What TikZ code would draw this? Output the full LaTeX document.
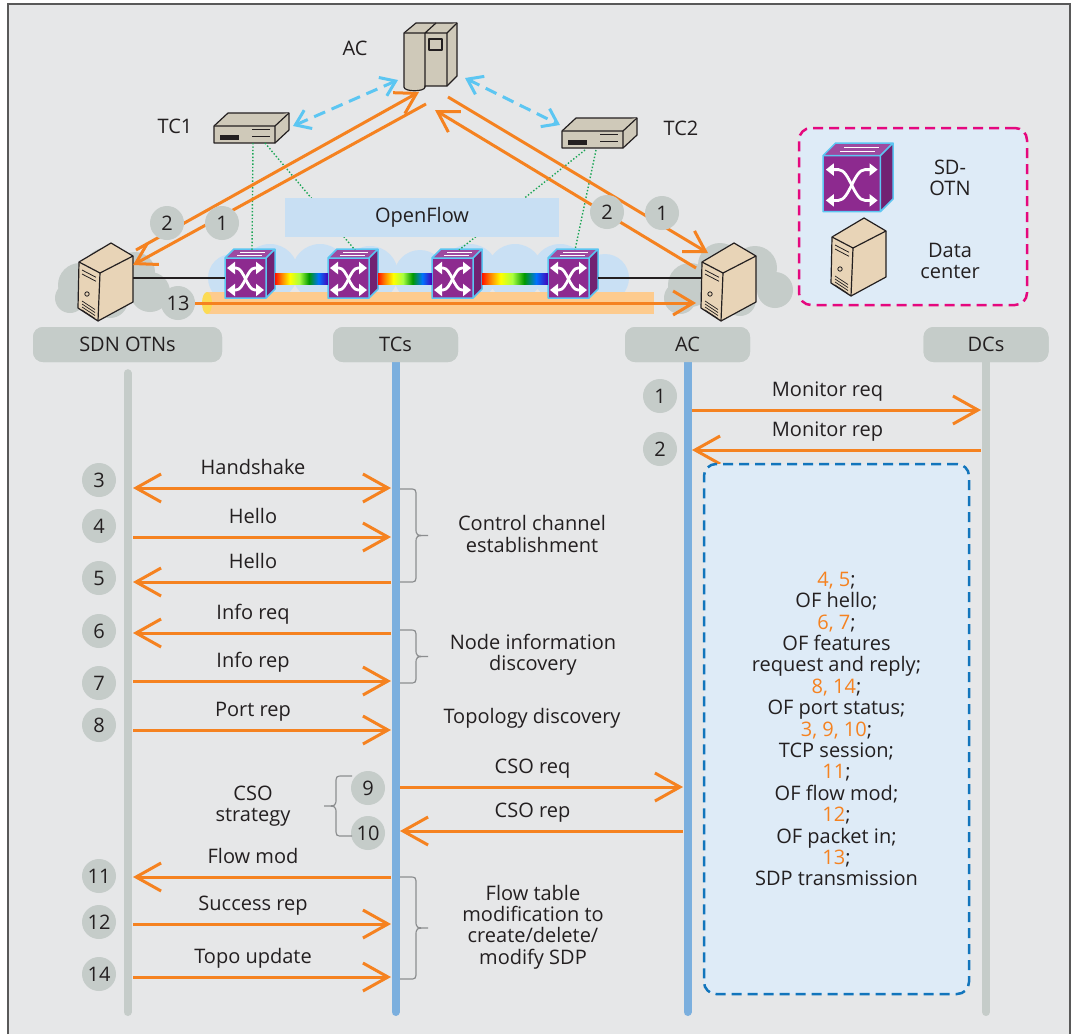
\documentclass[tikz,border=0pt]{standalone}
\usepackage{fontspec}
\setmainfont{Open Sans}
\usetikzlibrary{arrows.meta, calc, positioning}

\definecolor{ink}{HTML}{231F20}
\definecolor{panel}{HTML}{E6E7E8}
\definecolor{stone}{HTML}{C5CCC9}
\definecolor{laneBlue}{HTML}{7BAFDE}
\definecolor{flame}{HTML}{F58220}
\definecolor{paleBlue}{HTML}{DEEBF7}
\definecolor{dashBlue}{HTML}{1275BC}
\definecolor{magentaC}{HTML}{E5087E}
\definecolor{skyC}{HTML}{5CC6F2}
\definecolor{plum}{HTML}{8D2A8F}
\definecolor{srvTan}{HTML}{E8D4B7}
\definecolor{devGray}{HTML}{CFC9B9}
\definecolor{leaf}{HTML}{1BA556}
\definecolor{flowBlue}{HTML}{C8DFF3}
\definecolor{cloudBlue}{HTML}{C9E0F4}
\definecolor{tubeC}{HTML}{FDCB8E}
\definecolor{braceGray}{HTML}{8C8E90}

% optical spectrum between the cubes (TikZ fits the 25bp--75bp band to the path)
\pgfdeclarehorizontalshading{spectrum}{100bp}{color(0bp)=(red!85!orange); color(25bp)=(red!85!orange); color(31bp)=(orange); color(39bp)=(yellow); color(48bp)=(green!45!yellow!75!white); color(57bp)=(green!60!black); color(66bp)=(cyan!45!blue); color(75bp)=(blue!45!violet); color(100bp)=(blue!45!violet)}

\tikzset{
    every node/.append style={font=\fontsize{20pt}{21.4pt}\selectfont, text=ink},
    lane/.style={fill=stone, rounded corners=10pt, minimum height=35pt, inner sep=0pt},
    laneGray/.style={draw=stone, line width=8pt, line cap=round},
    laneBlue/.style={draw=laneBlue, line width=8pt, line cap=round},
    stepnum/.style={circle, fill=stone, minimum size=34pt, inner sep=0pt},
    msg/.style={draw=flame, line width=3pt, -{Straight Barb[length=25pt, width=28pt]}},
    msgBoth/.style={draw=flame, line width=3pt, {Straight Barb[length=25pt, width=28pt]}-{Straight Barb[length=25pt, width=28pt]}},
    msglabel/.style={anchor=base, yshift=14pt, xshift=-9pt, inner sep=0pt},
    link/.style={draw=flame, line width=3pt, -{Straight Barb[length=20pt, width=24pt]}},
    ctrl/.style={draw=skyC, line width=3pt, dash pattern=on 12pt off 7pt, {Straight Barb[length=14pt, width=20pt]}-{Straight Barb[length=14pt, width=20pt]}},
    ofwire/.style={draw=leaf, line width=1.4pt, dotted},
    braceLine/.style={draw=braceGray, line width=1.2pt},
    srv/.style={fill=srvTan, draw=ink, line width=1.2pt, line join=round},
    dev/.style={fill=devGray, draw=ink, line width=1.2pt, line join=round},
    swEdge/.style={draw=skyC, line width=1.5pt, line join=round},
    swArrow/.style={draw=white, line width=2.8pt, {Triangle[length=8pt, width=12pt]}-{Triangle[length=8pt, width=12pt]}},
    sumbox/.style={draw=dashBlue, fill=paleBlue, line width=2.5pt, dash pattern=on 10pt off 6pt, rounded corners=12pt, align=center},
    legendbox/.style={draw=magentaC, fill=paleBlue, line width=2.5pt, dash pattern=on 10pt off 6pt, rounded corners=12pt},
}

\newcommand{\orn}[1]{\textcolor{flame}{#1}}

% purple SD-OTN cube: name, top-left corner, scale
\newcommand{\drawSwitch}[3]{
    \begin{scope}[shift={#2}, scale=#3]
        \fill[plum] (0,9) rectangle (41,49);
        \fill[plum!80!black] (41,9) -- (50,0) -- (50,40) -- (41,49) -- cycle;
        \fill[plum!85!white] (0,9) -- (9,0) -- (50,0) -- (41,9) -- cycle;
        \draw[swEdge] (0,9) -- (9,0) -- (50,0) -- (50,40) -- (41,49) -- (0,49) -- cycle (0,9) -- (41,9) -- (50,0) (41,9) -- (41,49);
        % crossed arrows on the front face
        \draw[swArrow] (2,19) -- (11,19) .. controls (19,19) and (22,41) .. (30,41) -- (39,41);
        \draw[swArrow] (2,41) -- (11,41) .. controls (19,41) and (22,19) .. (30,19) -- (39,19);
        % arrows on the lid
        \draw[white, line width=0.8pt] (15,3) -- (40,3) (12,6) -- (37,6);
        \coordinate (#1) at (27,1);
    \end{scope}
}

% data center tower: name, top-left corner
\newcommand{\drawServer}[2]{
    \begin{scope}[shift={#2}]
        \filldraw[srv] (1,19) -- (33,0) -- (55,13) -- (55,59) -- (20,78) -- (0,65) -- cycle;
        \draw[srv] (1,19) -- (22,30) -- (55,13) (22,30) -- (20,78);
        \draw[ink, line width=0.8pt] (4,27) -- (18,34.3) (4,31) -- (18,38.3);
        \draw[ink, line width=0.8pt] (9,51) circle (2.2);
        \foreach \v in {58,61,64,67} \draw[ink, line width=0.7pt] (4,\v) -- (17,\v+8.5);
        \coordinate (#1) at (28,40);
    \end{scope}
}

% flat controller box: name, top-left corner
\newcommand{\drawTC}[2]{
    \begin{scope}[shift={#2}]
        \filldraw[dev] (0,13) -- (14,0) -- (75,0) -- (75,17) -- (61,30) -- (0,30) -- cycle;
        \draw[dev] (0,13) -- (61,13) -- (75,0) (61,13) -- (61,30);
        \fill[ink] (6,22) rectangle (25,27);
        \draw[ink, line width=1pt] (38,16) -- (56,16) (38,23) -- (56,23);
        \coordinate (#1) at (37,15);
    \end{scope}
}

% application controller tower: name, top-left corner
\newcommand{\drawAC}[2]{
    \begin{scope}[shift={#2}]
        \filldraw[dev] (0,10) -- (12,0) -- (53,0) -- (53,53) -- (43,63) -- (21,63) -- (21,64) .. controls (21,69) and (0,69) .. (0,64) -- cycle;
        \draw[dev] (0,10) -- (43,10) -- (53,0) (43,10) -- (43,63) (21,10) -- (21,64) (21,10) -- (32,0);
        \draw[dev] (25,16) rectangle (38,27);
        \coordinate (#1) at (26,35);
    \end{scope}
}

\newcommand{\drawMsg}[5][msg]{
    \draw[#1] (#3 |- 0,#2) -- node[msglabel] {#5} (#4 |- 0,#2);
}

\newcommand{\drawBrace}[4]{
    \pgfmathsetmacro{\brMid}{(#2+#3)/2}
    \draw[braceLine] (#1,#2) -- ({#1+9*#4},#2) .. controls ({#1+16*#4},#2) .. ({#1+16*#4},{#2+8})
        -- ({#1+16*#4},{\brMid-8}) .. controls ({#1+16*#4},\brMid) .. ({#1+28*#4},\brMid)
        .. controls ({#1+16*#4},\brMid) .. ({#1+16*#4},{\brMid+8})
        -- ({#1+16*#4},{#3-8}) .. controls ({#1+16*#4},#3) .. ({#1+9*#4},#3) -- (#1,#3);
}

\begin{document}
\begin{tikzpicture}[x=1pt, y=-1pt]
    \useasboundingbox (0,0) rectangle (1075,1034);
    \fill[panel] (8,4) rectangle (1070,1034);
    \draw[gray!70!black, line width=1.2pt] (8,1034) -- (8,4) -- (1070,4) -- (1070,1034);

    % clouds
    \foreach \cx/\cy/\r in {80/285/22, 105/268/20, 135/272/20, 150/292/20, 110/300/18, 70/298/15}
        \fill[stone] (\cx,\cy) circle (\r);
    \foreach \cx/\cy/\r in {690/285/22, 720/265/22, 755/268/22, 775/290/18, 740/300/16, 680/298/16}
        \fill[stone] (\cx,\cy) circle (\r);
    \foreach \cx/\cy/\r in {232/278/24, 270/272/28, 320/272/28, 370/274/28, 420/276/26, 470/272/28, 515/272/28, 560/272/28, 605/278/24}
        \fill[cloudBlue] (\cx,\cy) circle (\r);

    % transmission path
    \fill[tubeC] (207,292) rectangle (654,314);
    \fill[yellow!40!tubeC] (207,303) ellipse (5 and 11);

    % SD-OTN chain
    \drawSwitch{swA}{(225,249)}{1}
    \drawSwitch{swB}{(328,249)}{1}
    \drawSwitch{swC}{(432,249)}{1}
    \drawSwitch{swD}{(548,249)}{1}
    \shade[shading=spectrum] (275,273) rectangle (328,284);
    \shade[shading=spectrum] (378,273) rectangle (432,284);
    \shade[shading=spectrum] (482,273) rectangle (548,284);

    \drawServer{dcLeft}{(78,243)}
    \drawServer{dcRight}{(701,243)}
    \draw[ink, line width=2pt] (133,278) -- (225,278);
    \draw[ink, line width=2pt] (598,278) -- (701,278);

    % controllers
    \drawTC{tcOne}{(214,113)}
    \drawTC{tcTwo}{(562,118)}
    \drawAC{acTop}{(404,23)}
    \node (lblAC) at (355,48) {AC};
    \node (lblTC1) at (175,126) {TC1};
    \node (lblTC2) at (681,128) {TC2};

    % OpenFlow wiring
    \coordinate (tc1a) at (253,143);
    \coordinate (tc1b) at (265,143);
    \coordinate (tc2a) at (585,150);
    \coordinate (tc2b) at (596,150);
    \draw[ofwire] (tc1a) -- (swA);
    \draw[ofwire] (tc1b) -- (swB);
    \draw[ofwire] (tc2a) -- (swC);
    \draw[ofwire] (tc2b) -- (swD);
    \node[fill=flowBlue, minimum width=274pt, minimum height=39pt, inner sep=0pt] (ofbox) at (422,217.5) {OpenFlow};

    % controller links
    \coordinate (tc1out) at (293,126);
    \coordinate (acInL) at (398,80);
    \coordinate (acInR) at (465,78);
    \coordinate (tc2out) at (560,125);
    \draw[ctrl] (tc1out) -- (acInL);
    \draw[ctrl] (acInR) -- (tc2out);

    \coordinate (acL1) at (426,104);
    \coordinate (acL2) at (419,92);
    \coordinate (acR1) at (448,97);
    \coordinate (acR2) at (435,110);
    \coordinate (dcL1) at (133,265);
    \coordinate (dcL2) at (136,250);
    \coordinate (dcR1) at (708,253);
    \coordinate (dcR2) at (696,268);
    \coordinate (dcR3) at (696,303);
    \draw[link] (dcL2) -- (acL2);
    \draw[link] (acL1) -- (dcL1);
    \draw[link] (acR1) -- (dcR1);
    \draw[link] (dcR2) -- (acR2);
    \node[stepnum] (t2l) at (167,223) {2};
    \node[stepnum] (t1l) at (222,223) {1};
    \node[stepnum] (t2r) at (607,212) {2};
    \node[stepnum] (t1r) at (662,213) {1};
    \node[stepnum] (t13) at (178,303) {13};
    \draw[link] (t13.east) -- (dcR3);

    % legend
    \node[legendbox, minimum width=228pt, minimum height=177pt] (legend) at (913,216.5) {};
    \drawSwitch{lgSwitch}{(823,143)}{1.4}
    \drawServer{lgServer}{(831,218)}
    \node[align=center] (lgOTN) at (950,178) {SD-\\OTN};
    \node[align=center] (lgDC) at (950,261) {Data\\center};

    % lifelines
    \coordinate (bottom) at (0,1012);
    \node[lane, minimum width=189pt] (hSDN) at (127.5,344.5) {};
    \node[lane, minimum width=125pt] (hTC) at (395.5,344.5) {};
    \node[lane, minimum width=125pt] (hAC) at (687.5,344.5) {};
    \node[lane, minimum width=125pt] (hDC) at (986,344.5) {};
    \draw[laneGray] ([yshift=-11pt]hSDN.south) -- (hSDN.south |- bottom);
    \draw[laneBlue] (hTC.south) -- (hTC.south |- bottom);
    \draw[laneBlue] (hAC.south) -- (hAC.south |- bottom);
    \draw[laneGray] (hDC.south) -- (hDC.south |- bottom);
    \node[lane, minimum width=189pt] at (hSDN) {SDN OTNs};
    \node[lane, minimum width=125pt] at (hTC) {TCs};
    \node[lane, minimum width=125pt] at (hAC) {AC};
    \node[lane, minimum width=125pt] at (hDC) {DCs};

    \coordinate (sdnE) at (133,0);
    \coordinate (tcW) at (391,0);
    \coordinate (tcE) at (400,0);
    \coordinate (acW) at (683,0);
    \coordinate (acE) at (692,0);
    \coordinate (dcW) at (981,0);

    % messages
    \drawMsg{410}{acE}{dcW}{Monitor req}
    \drawMsg{450}{dcW}{acE}{Monitor rep}
    \drawMsg[msgBoth]{488}{sdnE}{tcW}{Handshake}
    \drawMsg{537}{sdnE}{tcW}{Hello}
    \drawMsg{582}{tcW}{sdnE}{Hello}
    \drawMsg{633}{tcW}{sdnE}{Info req}
    \drawMsg{681}{sdnE}{tcW}{Info rep}
    \drawMsg{730}{sdnE}{tcW}{Port rep}
    \drawMsg{787}{tcE}{acW}{CSO req}
    \drawMsg{831}{acW}{tcE}{CSO rep}
    \drawMsg{877}{tcW}{sdnE}{Flow mod}
    \drawMsg{924}{sdnE}{tcW}{Success rep}
    \drawMsg{977}{sdnE}{tcW}{Topo update}

    \foreach \n/\x/\y in {1/660/396, 2/660/449, 3/99/480, 4/99/526, 5/99/578, 6/99/631, 7/99/683, 8/99/725, 9/368/788, 10/368/833, 11/99/876, 12/99/922, 14/99/974}
        \node[stepnum] (s\n) at (\x,\y) {\n};

    % phases
    \drawBrace{400}{489}{582}{1}
    \drawBrace{400}{630}{683}{1}
    \drawBrace{400}{877}{979}{1}
    \drawBrace{352}{776}{836}{-1}
    \node[align=center] (phCtrl) at (532,534) {Control channel\\establishment};
    \node[align=center] (phNode) at (533,655) {Node information\\discovery};
    \node (phTopo) at (532,718) {Topology discovery};
    \node[align=center] (phFlow) at (533,927) {Flow table\\modification to\\create/delete/\\modify SDP};
    \node[align=center] (phCSO) at (253,806) {CSO\\strategy};

    \node[sumbox, minimum width=265pt, minimum height=530pt] (summary) at (836.5,729) {\orn{4, 5};\\OF hello;\\\orn{6, 7};\\OF features\\request and reply;\\\orn{8, 14};\\OF port status;\\\orn{3, 9, 10};\\TCP session;\\\orn{11};\\OF flow mod;\\\orn{12};\\OF packet in;\\\orn{13};\\SDP transmission};
\end{tikzpicture}
\end{document}
